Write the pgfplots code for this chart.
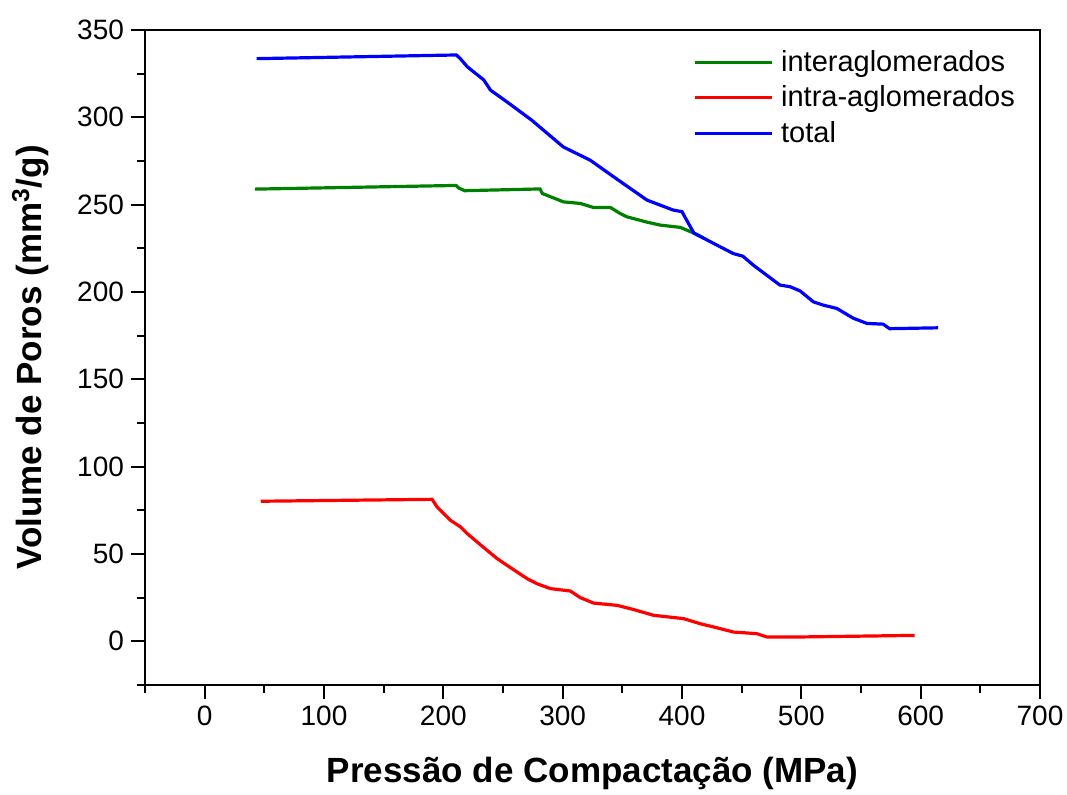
\documentclass[border=0pt]{standalone}
\usepackage{fontspec}
\setmainfont{Liberation Sans}
\usepackage{pgfplots}
\pgfplotsset{compat=1.18}
\definecolor{cgreen}{RGB}{0,128,0}
\definecolor{cred}{RGB}{255,0,0}
\definecolor{cblue}{RGB}{0,0,255}
\begin{document}
\begin{tikzpicture}
\begin{axis}[
 at={(0,0)}, anchor=south west,
 scale only axis, width=447.5pt, height=327.5pt,
 xmin=-50, xmax=700, ymin=-25, ymax=350,
 xtick={0,100,...,700}, ytick={0,50,...,350},
 minor xtick={-50,50,...,650}, minor ytick={-25,25,...,325},
 tick align=outside, xtick pos=bottom, ytick pos=left,
 major tick length=7pt, minor tick length=4pt,
 every tick/.style={black, line width=1pt},
 axis line style={line width=1pt},
 /pgf/number format/assume math mode=true,
 tick label style={font=\fontsize{14}{16}\selectfont},
 xlabel={Pressão de Compactação (MPa)},
 ylabel={Volume de Poros (mm\textsuperscript{3}/g)},
 label style={font=\bfseries\fontsize{17.5}{20}\selectfont},
 xlabel style={at={(axis description cs:0.5,-0.1344)}, anchor=center},
 ylabel style={at={(axis description cs:-0.128,0.5)}, anchor=center},
 legend style={draw=none, fill=none, at={(axis description cs:0.612,0.975)}, anchor=north west,
   font=\fontsize{14.5}{17}\selectfont, row sep=1.6pt, column sep=2pt, inner sep=0pt},
 legend cell align=left,
 legend image code/.code={\draw[#1, line width=1.5pt] (0pt,0pt) -- (38.5pt,0pt);},
 every axis plot/.append style={line width=1.6pt},
]
\addplot[cgreen] coordinates {
(42,258.9) (210.7,261) (213,259.5) (218,258) (281,259) (283,256.4) (300.6,251.6) (314.8,250.7) (325.7,248.4) (340,248.4) (348,245) (354,243) (370.7,240) (381.8,238.3) (398.5,237) (410,233.7) (418,231)
};
\addlegendentry{interaglomerados}
\addplot[cred] coordinates {
(47,80.2) (190.6,81.3) (194.8,76.9) (200.4,73.1) (206,69.3) (214.4,65.5) (220,61.7) (228.3,56.9) (236.7,52.1) (245,47.4) (253.4,43.5) (261.8,39.7) (270.2,35.9) (278.5,33) (289.7,30.2) (306.5,28.8) (314.8,25) (326,21.9) (345.6,20.6) (359.5,18.2) (376.2,14.9) (401.3,13) (415.3,10.1) (432,7.3) (443.2,5.3) (462.7,4.4) (471,2.5) (499,2.5) (595,3.4)
};
\addlegendentry{intra-aglomerados}
\addplot[cblue] coordinates {
(43.5,333.6) (211,335.7) (215,333) (220,329) (225.5,326) (233.9,321.4) (239.5,315.6) (255,308) (274,298.4) (300.6,283) (323,275.5) (342.6,266) (370.7,252.6) (392.7,246.9) (400,246) (404,241) (410,233.7) (426,228) (443,222) (451,220.5) (459.7,215.4) (471,209.6) (482,204) (490.7,203) (499,200.6) (510,194.4) (518.3,192.5) (529.7,190.6) (543.5,185) (555,182) (568.5,181.6) (574,179) (614.6,179.5)
};
\addlegendentry{total}
\end{axis}
\pgfresetboundingbox
\path[use as bounding box] (-72.5pt,-54.5pt) rectangle (461pt,342.5pt);
\end{tikzpicture}
\end{document}
